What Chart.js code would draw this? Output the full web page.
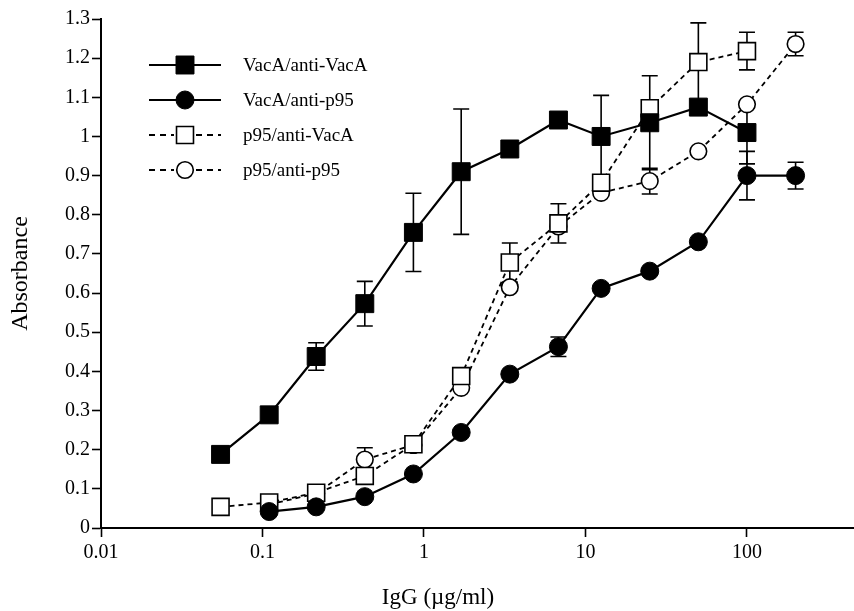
<!DOCTYPE html>
<html><head><meta charset="utf-8">
<script src="https://cdn.jsdelivr.net/npm/chart.js@4.4.1/dist/chart.umd.min.js"></script>
<style>html,body{margin:0;padding:0;background:#fff;}#wrap{width:854px;height:611px;}</style>
</head><body><div id="wrap"><canvas id="c" width="854" height="611"></canvas></div>
<script>
// ---- data ----
const seriesNames = ['VacA/anti-VacA', 'VacA/anti-p95', 'p95/anti-VacA', 'p95/anti-p95'];
const concA = [0.055, 0.11, 0.215, 0.43, 0.86, 1.7, 3.4, 6.8, 12.5, 25, 50, 100];
const concB = [0.11, 0.215, 0.43, 0.86, 1.7, 3.4, 6.8, 12.5, 25, 50, 100, 200];
const vacaAntiVacA    = [0.188, 0.289, 0.438, 0.573, 0.755, 0.910, 0.968, 1.042, 1.000, 1.035, 1.075, 1.010];
const vacaAntiVacAErr = [null, null, 0.035, 0.057, 0.100, 0.160, null, null, 0.105, 0.120, null, 0.080];
const vacaAntiP95     = [0.042, 0.054, 0.080, 0.138, 0.244, 0.393, 0.463, 0.612, 0.656, 0.731, 0.900, 0.900];
const vacaAntiP95Err  = [null, null, null, null, null, null, 0.025, null, null, null, 0.062, 0.034];
const p95AntiVacA     = [0.054, 0.065, 0.090, 0.133, 0.214, 0.388, 0.678, 0.778, 0.882, 1.072, 1.190, 1.218];
const p95AntiVacAErr  = [null, null, null, null, null, null, 0.050, 0.050, null, null, 0.100, 0.048];
const p95AntiP95      = [0.060, 0.088, 0.175, 0.212, 0.358, 0.615, 0.770, 0.856, 0.886, 0.962, 1.082, 1.236];
const p95AntiP95Err   = [null, null, 0.030, null, null, null, null, null, 0.033, null, null, 0.030];
const xTickValues = [0.01, 0.1, 1, 10, 100];
const xTickLabels = ['0.01', '0.1', '1', '10', '100'];
const xTitle = 'IgG (\u00b5g/ml)';
const yTitle = 'Absorbance';

const FONT = '"Liberation Serif", "Times New Roman", Times, serif';
const pts = (xs, ys) => xs.map((x, i) => ({x: x, y: ys[i]}));

const datasets = [
  {label: seriesNames[0], data: pts(concA, vacaAntiVacA), err: vacaAntiVacAErr,
   borderColor: '#000', borderWidth: 2.2, showLine: true,
   pointStyle: 'rect', pointRadius: 12.7, pointBorderWidth: 1, pointBackgroundColor: '#000', pointBorderColor: '#000'},
  {label: seriesNames[1], data: pts(concB, vacaAntiP95), err: vacaAntiP95Err,
   borderColor: '#000', borderWidth: 2.2, showLine: true,
   pointStyle: 'circle', pointRadius: 9, pointBorderWidth: 1, pointBackgroundColor: '#000', pointBorderColor: '#000'},
  {label: seriesNames[2], data: pts(concA, p95AntiVacA), err: p95AntiVacAErr,
   borderColor: '#000', borderWidth: 1.8, borderDash: [5, 4], showLine: true,
   pointStyle: 'rect', pointRadius: 12, pointBorderWidth: 1.6, pointBackgroundColor: '#fff', pointBorderColor: '#000'},
  {label: seriesNames[3], data: pts(concB, p95AntiP95), err: p95AntiP95Err,
   borderColor: '#000', borderWidth: 1.8, borderDash: [5, 4], showLine: true,
   pointStyle: 'circle', pointRadius: 8.3, pointBorderWidth: 1.6, pointBackgroundColor: '#fff', pointBorderColor: '#000'}
];

const errorBars = {
  id: 'errorBars',
  beforeDatasetsDraw(chart) {
    const ctx = chart.ctx, xs = chart.scales.x, ys = chart.scales.y;
    ctx.save();
    ctx.strokeStyle = '#000'; ctx.lineWidth = 1.6; ctx.setLineDash([]);
    chart.data.datasets.forEach(ds => {
      ds.data.forEach((p, i) => {
        const e = ds.err[i];
        if (e == null) return;
        const px = xs.getPixelForValue(p.x);
        const t = ys.getPixelForValue(p.y + e), b = ys.getPixelForValue(p.y - e);
        ctx.beginPath();
        ctx.moveTo(px, t); ctx.lineTo(px, b);
        ctx.moveTo(px - 8, t); ctx.lineTo(px + 8, t);
        ctx.moveTo(px - 8, b); ctx.lineTo(px + 8, b);
        ctx.stroke();
      });
    });
    ctx.restore();
  }
};

const legendBox = {
  id: 'legendBox',
  afterDraw(chart) {
    const ctx = chart.ctx;
    ctx.save();
    chart.data.datasets.forEach((ds, i) => {
      const y = 65 + i * 35;
      ctx.strokeStyle = '#000';
      ctx.lineWidth = ds.borderWidth;
      ctx.setLineDash(ds.borderDash ? [6, 5] : []);
      ctx.beginPath();
      if (ds.borderDash) {
        ctx.moveTo(149, y); ctx.lineTo(174, y);
        ctx.moveTo(196, y); ctx.lineTo(221, y);
      } else {
        ctx.moveTo(149, y); ctx.lineTo(221, y);
      }
      ctx.stroke();
      ctx.setLineDash([]);
      ctx.lineWidth = ds.pointBorderWidth;
      ctx.fillStyle = ds.pointBackgroundColor;
      ctx.beginPath();
      const cx = 185;
      if (ds.pointStyle === 'rect') {
        const s = ds.pointRadius * Math.SQRT1_2;
        ctx.rect(cx - s, y - s, 2 * s, 2 * s);
      } else {
        ctx.arc(cx, y, ds.pointRadius, 0, Math.PI * 2);
      }
      ctx.fill(); ctx.stroke();
      ctx.fillStyle = '#000';
      ctx.font = '19px ' + FONT;
      ctx.textBaseline = 'middle';
      ctx.textAlign = 'left';
      ctx.fillText(ds.label, 243, y + 1);
    });
    // x axis title
    ctx.font = '23px ' + FONT;
    ctx.textAlign = 'center';
    ctx.textBaseline = 'middle';
    ctx.fillText(xTitle, 438, 598);
    ctx.restore();
  }
};

new Chart(document.getElementById('c'), {
  type: 'scatter',
  data: {datasets: datasets},
  plugins: [errorBars, legendBox],
  options: {
    responsive: false,
    animation: false,
    events: [],
    devicePixelRatio: 1,
    layout: {autoPadding: false, padding: {top: 19, right: 0, bottom: 0, left: 0}},
    plugins: {legend: {display: false}, tooltip: {enabled: false}},
    scales: {
      x: {
        type: 'logarithmic', min: 0.01, max: 460,
        afterBuildTicks: s => { s.ticks = xTickValues.map(v => ({value: v})); },
        afterFit: s => { s.height = 83; s.paddingLeft = 0; s.paddingRight = 0; },
        ticks: {
          color: '#000', font: {family: FONT, size: 20}, padding: 4, maxRotation: 0, autoSkip: false,
          callback: (v) => { const k = xTickValues.indexOf(v); return k >= 0 ? xTickLabels[k] : ''; }
        },
        grid: {drawOnChartArea: false, drawTicks: true, tickLength: 9, tickColor: '#000', tickWidth: 1.6},
        border: {display: true, color: '#000', width: 2}
      },
      y: {
        min: 0, max: 1.3,
        afterFit: s => { s.width = 101; },
        ticks: {stepSize: 0.1, color: '#000', font: {family: FONT, size: 20}, padding: 2,
          callback: v => String(Math.round(v * 10) / 10)},
        grid: {drawOnChartArea: false, drawTicks: true, tickLength: 9, tickColor: '#000', tickWidth: 1.6},
        border: {display: true, color: '#000', width: 2},
        title: {display: true, text: yTitle, color: '#000', font: {family: FONT, size: 24, weight: 'normal'}, padding: {top: 6, bottom: 0}}
      }
    }
  }
});
</script>
</body></html>
